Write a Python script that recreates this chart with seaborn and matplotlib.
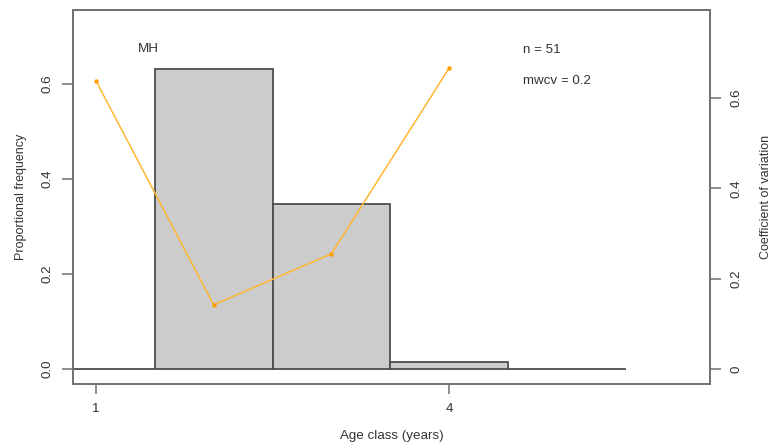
import matplotlib
matplotlib.use("Agg")
import matplotlib.pyplot as plt
import seaborn as sns

# Age classes and proportional frequency of individuals in each class
ages = [1, 2, 3, 4, 5]
prop_freq = [0.0, 0.632, 0.347, 0.014, 0.0]

# Coefficient of variation for the age classes that have one
cv_ages = [1, 2, 3, 4]
cv_values = [0.638, 0.142, 0.255, 0.666]

site = "MH"
n_label = "n = 51"
mwcv_label = "mwcv = 0.2"
x_ticks = [1, 4]
left_ticks = [0.0, 0.2, 0.4, 0.6]
left_tick_labels = ["0.0", "0.2", "0.4", "0.6"]
right_ticks = [0.0, 0.2, 0.4, 0.6]
right_tick_labels = ["0", "0.2", "0.4", "0.6"]

sns.set_theme(style="white")
plt.rcParams["font.family"] = ["Liberation Sans", "DejaVu Sans"]
text_color = "#333333"
frame_color = "#707070"
fs = 9.6

fig = plt.figure(figsize=(7.71, 4.43), dpi=100)
ax = fig.add_axes([0.0947, 0.1332, 0.8262, 0.8442])

sns.histplot(x=ages, weights=prop_freq, discrete=True, stat="count",
             color="#cccccc", edgecolor="#4d4d4d", linewidth=1.3, alpha=1.0,
             ax=ax)
ax.set_xlim(0.805, 6.217)
ax.set_ylim(-0.0316, 0.7558)

ax2 = ax.twinx()
sns.lineplot(x=cv_ages, y=cv_values, ax=ax2, color="#ffb733", linewidth=1.1,
             marker="o", markersize=3.2, markeredgewidth=0,
             markerfacecolor="#ff9f00")
ax2.set_ylim(-0.0332, 0.7948)

# frame
for a in (ax, ax2):
    for side in a.spines.values():
        side.set_color(frame_color)
        side.set_linewidth(1.2)

# axes ticks
ax.set_xticks(x_ticks)
ax.set_xticklabels([str(t) for t in x_ticks])
ax.set_yticks(left_ticks)
ax.set_yticklabels(left_tick_labels, rotation=90, va="center")
ax2.set_yticks(right_ticks)
ax2.set_yticklabels(right_tick_labels, rotation=90, va="center")

ax.tick_params(axis="x", bottom=True, length=7, width=1.1, color=frame_color,
               labelsize=fs, labelcolor=text_color, pad=7)
ax.tick_params(axis="y", left=True, length=8, width=1.1, color=frame_color,
               labelsize=fs, labelcolor=text_color, pad=6)
ax2.tick_params(axis="y", right=True, length=8, width=1.1, color=frame_color,
                labelsize=fs, labelcolor=text_color, pad=7)

ax.set_xlabel("Age class (years)", fontsize=fs, color=text_color)
ax.xaxis.set_label_coords(0.5, -0.123)
ax.set_ylabel("Proportional frequency", fontsize=fs - 0.6, color=text_color)
ax.yaxis.set_label_coords(-0.072, 0.5)
ax2.set_ylabel("Coefficient of variation", fontsize=fs - 0.6,
               color=text_color, rotation=90)
ax2.yaxis.set_label_coords(1.0785, 0.5)

ax.text(0.119, 0.895, site, transform=ax.transAxes, ha="center", va="center",
        fontsize=fs, color=text_color)
ax.text(0.7065, 0.893, n_label, transform=ax.transAxes, ha="left",
        va="center", fontsize=fs, color=text_color)
ax.text(0.7065, 0.810, mwcv_label, transform=ax.transAxes, ha="left",
        va="center", fontsize=fs, color=text_color)

ax.grid(False)
ax2.grid(False)

fig.savefig("out.png", dpi=100, facecolor="white")
